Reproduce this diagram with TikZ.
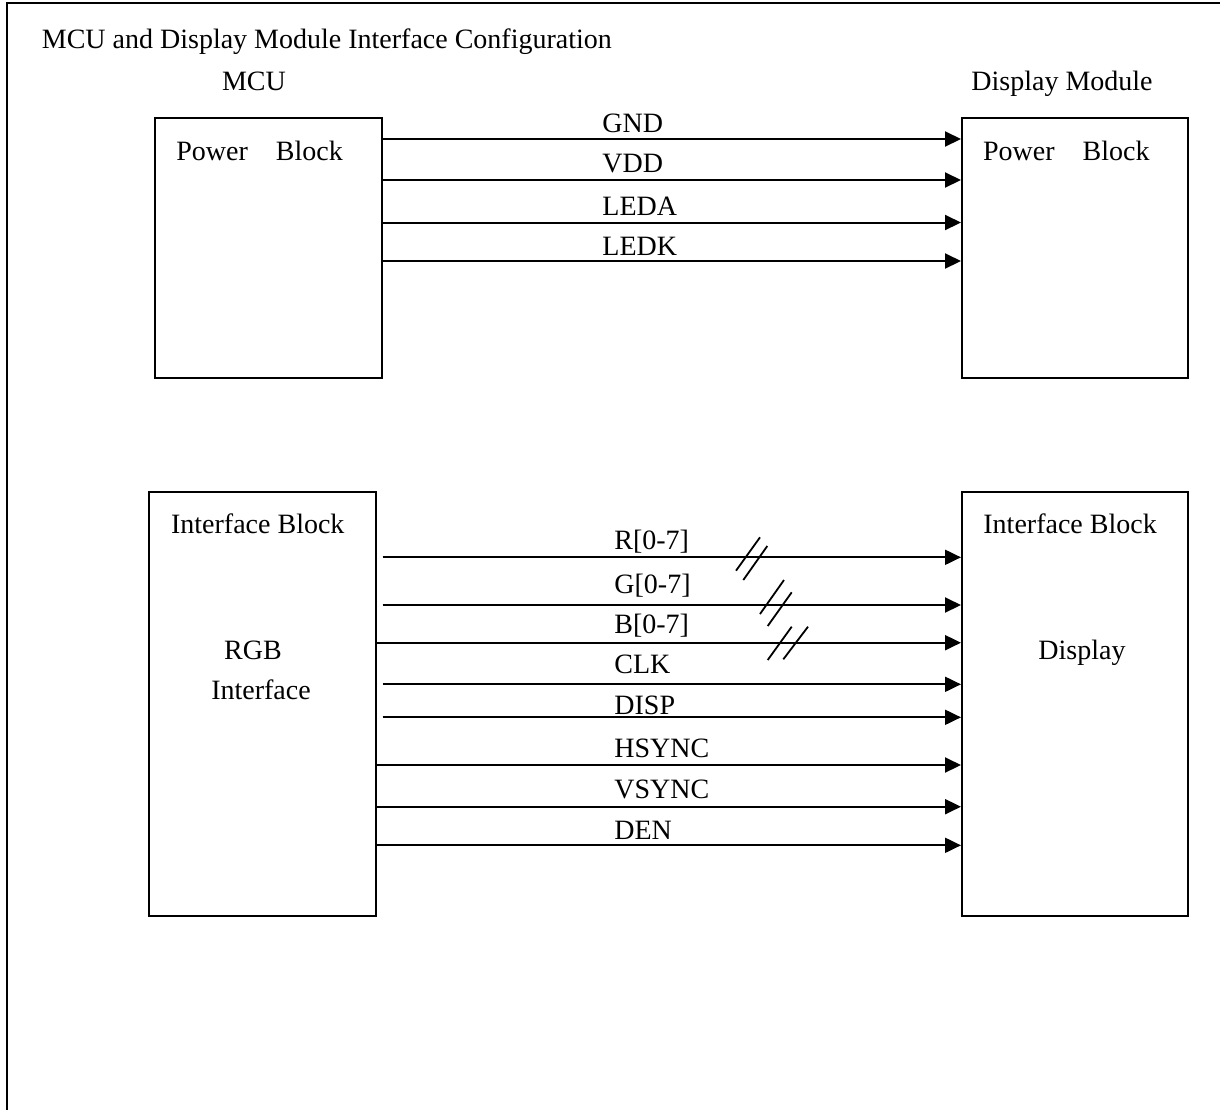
\documentclass[tikz,border=0pt]{standalone}
\usepackage{fontspec}
\setmainfont{Liberation Serif}
\usetikzlibrary{arrows.meta,positioning}
\tikzset{
    blk/.style={rectangle, draw, line width=1pt, minimum width=113.2pt, inner sep=0pt},
    sig/.style={line width=1pt, -{Triangle[length=8pt,width=7.5pt]}},
    lbl/.style={anchor=base west, inner sep=0pt},
    tick/.style={line width=0.9pt}
}
\begin{document}
\begin{tikzpicture}[x=0.5pt,y=-0.5pt,font=\fontsize{14}{16}\selectfont]
\useasboundingbox (0,0) rectangle (1220,1110);
\draw[line width=1pt] (6.5,1110)--(6.5,3)--(1220,3);
\node[lbl] (title) at (41.5,48) {MCU and Display Module Interface Configuration};
\node[anchor=base, inner sep=0pt] (mcu) at (254,90) {MCU};
\node[anchor=base east, inner sep=0pt] (dsp) at (1153,90) {Display Module};
% power part
\node[blk, minimum height=130pt] (mcupwr) at (268.3,248) {};
\node[blk, minimum height=130pt] (dsppwr) at (1075.2,248) {};
\node[lbl] (tmcupwr) at (176,160) {Power\quad Block};
\node[lbl] (tdsppwr) at (982.7,160) {Power\quad Block};
\draw[sig] (mcupwr.east |- 0,139) -- (dsppwr.west |- 0,139);
\draw[sig] (mcupwr.east |- 0,180) -- (dsppwr.west |- 0,180);
\draw[sig] (mcupwr.east |- 0,222.5) -- (dsppwr.west |- 0,222.5);
\draw[sig] (mcupwr.east |- 0,261) -- (dsppwr.west |- 0,261);
\node[lbl] (lgnd) at (602,132) {GND};
\node[lbl] (lvdd) at (602,172.5) {VDD};
\node[lbl] (lleda) at (602,215) {LEDA};
\node[lbl] (lledk) at (602,255) {LEDK};
% interface part
\node[blk, minimum height=212pt] (mcurgb) at (262.5,704) {};
\node[blk, minimum height=212pt] (dsprgb) at (1075.2,704) {};
\node[lbl] (tmcurgb) at (170.7,533) {Interface Block};
\node[lbl] (tdsprgb) at (983,533) {Interface Block};
\node[anchor=base, inner sep=0pt] (trgb) at (253,659) {RGB};
\node[anchor=base, inner sep=0pt] (tintf) at (261,699) {Interface};
\node[anchor=base, inner sep=0pt] (tdisp) at (1082,659) {Display};
\draw[sig] ([xshift=3pt]mcurgb.east |- 0,557.3) -- (dsprgb.west |- 0,557.3);
\draw[sig] ([xshift=3pt]mcurgb.east |- 0,605) -- (dsprgb.west |- 0,605);
\draw[sig] (mcurgb.east |- 0,642.7) -- (dsprgb.west |- 0,642.7);
\draw[sig] ([xshift=3pt]mcurgb.east |- 0,684.3) -- (dsprgb.west |- 0,684.3);
\draw[sig] ([xshift=3pt]mcurgb.east |- 0,717.3) -- (dsprgb.west |- 0,717.3);
\draw[sig] (mcurgb.east |- 0,765) -- (dsprgb.west |- 0,765);
\draw[sig] (mcurgb.east |- 0,806.7) -- (dsprgb.west |- 0,806.7);
\draw[sig] (mcurgb.east |- 0,845.3) -- (dsprgb.west |- 0,845.3);
\node[lbl] (lr) at (614,549) {R[0-7]};
\node[lbl] (lg) at (614,593) {G[0-7]};
\node[lbl] (lb) at (614,633) {B[0-7]};
\node[lbl] (lclk) at (614,673) {CLK};
\node[lbl] (ldisp) at (614,714) {DISP};
\node[lbl] (lhs) at (614,757) {HSYNC};
\node[lbl] (lvs) at (614,798) {VSYNC};
\node[lbl] (lden) at (614,839) {DEN};
% bus marks
\draw[tick] (736,570.7)--(760,537.3);
\draw[tick] (743.3,580)--(767.3,546);
\draw[tick] (760,614)--(784,580);
\draw[tick] (767.7,626)--(791.7,592.3);
\draw[tick] (767.7,660)--(791.7,626.7);
\draw[tick] (783.3,659.3)--(808,626.7);
\end{tikzpicture}
\end{document}
